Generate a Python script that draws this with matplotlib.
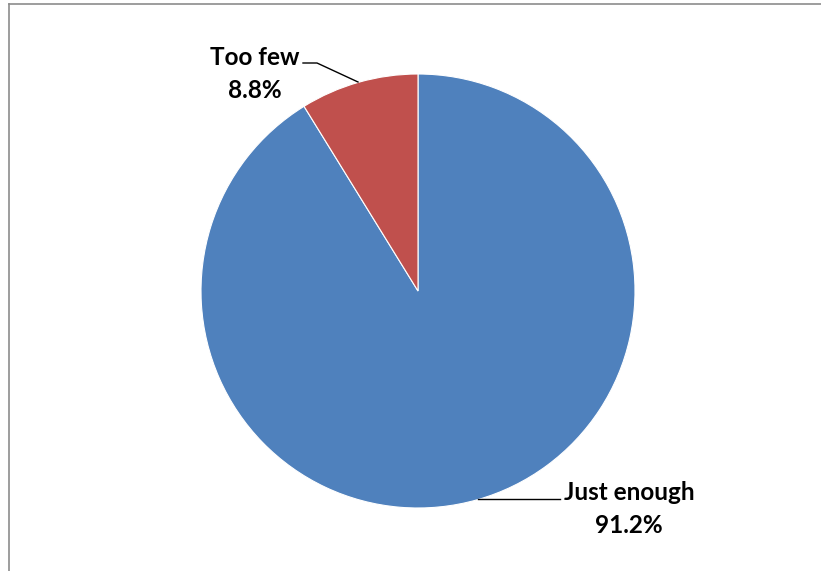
import matplotlib.pyplot as plt
from matplotlib.lines import Line2D

# dados do gráfico
categorias = ['Just enough', 'Too few']
percentuais = [91.2, 8.8]
cores = ['#4F81BD', '#C0504D']

W, H = 821, 571
fig = plt.figure(figsize=(W / 100, H / 100), dpi=100)
ax = fig.add_axes([0, 0, 1, 1])
ax.set_xlim(0, W)
ax.set_ylim(0, H)

ax.pie(percentuais, colors=cores, startangle=90, counterclock=False,
       center=(418, H - 291), radius=217,
       wedgeprops=dict(edgecolor='white', linewidth=0.8))
ax.set_xlim(0, W)
ax.set_ylim(0, H)
ax.set_aspect('equal')
ax.axis('off')

fonte = dict(family='Lato', weight='bold', fontsize=17.5, color='black',
             ha='center', va='center', linespacing=1.5)

# rótulos com linhas de chamada
ax.text(255, H - 74, f'{categorias[1]}\n{percentuais[1]}%', **fonte)
ax.plot([303, 317, 358], [H - 63, H - 63, H - 82], color='black', lw=1)

ax.text(629, H - 509, f'{categorias[0]}\n{percentuais[0]}%', **fonte)
ax.plot([478, 560], [H - 499, H - 499], color='black', lw=1)

# moldura (só esquerda e topo visíveis)
fig.add_artist(Line2D([9 / W, 9 / W], [0, 1 - 4 / H], transform=fig.transFigure,
                      color='#8c8c8c', lw=1.2))
fig.add_artist(Line2D([9 / W, 1], [1 - 4 / H, 1 - 4 / H], transform=fig.transFigure,
                      color='#8c8c8c', lw=1.2))

fig.savefig('out.png', dpi=100)
